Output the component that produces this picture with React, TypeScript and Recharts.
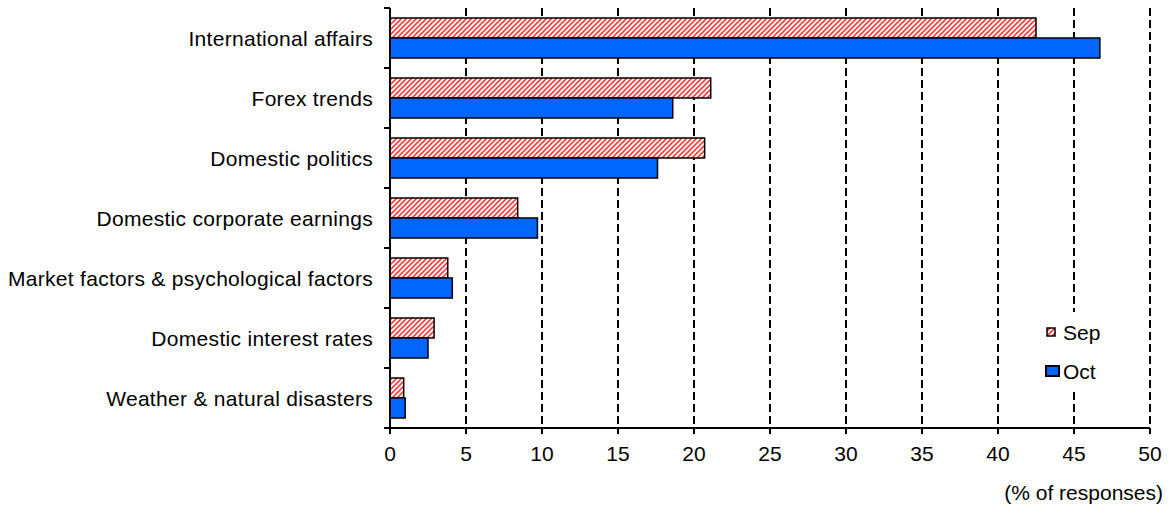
import React from 'react';
import { BarChart, Bar, XAxis, YAxis, CartesianGrid, Label } from 'recharts';

// Factors cited as affecting the market outlook, % of responses
const categories = [
  'International affairs',
  'Forex trends',
  'Domestic politics',
  'Domestic corporate earnings',
  'Market factors & psychological factors',
  'Domestic interest rates',
  'Weather & natural disasters',
];
const sepValues = [42.5, 21.1, 20.7, 8.4, 3.8, 2.9, 0.9];
const octValues = [46.7, 18.6, 17.6, 9.7, 4.1, 2.5, 1.0];
const xTicks = [0, 5, 10, 15, 20, 25, 30, 35, 40, 45, 50];
const seriesNames = { sep: 'Sep', oct: 'Oct' };
const axisTitle = '(% of responses)';

const data = categories.map((category, i) => ({
  category,
  sep: sepValues[i],
  oct: octValues[i],
}));

const FONT = '"Liberation Sans", Arial, sans-serif';
const BLUE = '#0066ff';
const HATCH_RED = '#ff3b3b';

const HatchDef = ({ id }: { id: string }) => (
  <pattern id={id} patternUnits="userSpaceOnUse" width={5} height={5}>
    <rect width={5} height={5} fill="#ffffff" />
    <path d="M-1,1 l2,-2 M0,5 l5,-5 M4,6 l2,-2" stroke={HATCH_RED} strokeWidth={1.6} />
  </pattern>
);

// Category label plus boundary tick marks between bands
const CategoryTick = (props: any) => {
  const { x, y, payload, index, visibleTicksCount } = props;
  const half = payload.offset || 0;
  const isLast = index === visibleTicksCount - 1;
  return (
    <g>
      <line x1={x + 11} x2={x + 17} y1={y - half} y2={y - half} stroke="#000" strokeWidth={2} />
      {isLast && (
        <line x1={x + 11} x2={x + 17} y1={y + half} y2={y + half} stroke="#000" strokeWidth={2} />
      )}
      <text
        x={x}
        y={y}
        textAnchor="end"
        dominantBaseline="central"
        fill="#000"
        fontSize={21}
        fontFamily={FONT}
        letterSpacing={0.3}
      >
        {payload.value}
      </text>
    </g>
  );
};

// Legend box drawn over the plot area, with a white background
const LegendBox = () => (
  <div
    style={{
      position: 'absolute',
      left: 1040,
      top: 312,
      width: 72,
      height: 80,
      background: '#ffffff',
      fontFamily: FONT,
      fontSize: 21,
      color: '#000',
    }}
  >
    <svg style={{ position: 'absolute', left: 6, top: 15 }} width={11} height={11}>
      <defs>
        <HatchDef id="legendHatch" />
      </defs>
      <rect x={1} y={1} width={8} height={8} fill="url(#legendHatch)" stroke="#000" strokeWidth={1.5} />
    </svg>
    <div style={{ position: 'absolute', left: 23, top: 9, lineHeight: '24px' }}>{seriesNames.sep}</div>
    <svg style={{ position: 'absolute', left: 5, top: 53 }} width={16} height={13}>
      <rect x={1} y={1} width={13} height={10} fill={BLUE} stroke="#000" strokeWidth={2} />
    </svg>
    <div style={{ position: 'absolute', left: 23, top: 48, lineHeight: '24px' }}>{seriesNames.oct}</div>
  </div>
);

export default function App() {
  return (
    <div style={{ position: 'absolute', left: 0, top: 0, width: 1169, height: 506, background: '#fff' }}>
      <BarChart
        width={1169}
        height={506}
        data={data}
        layout="vertical"
        margin={{ top: 8, right: 19, bottom: 0, left: 0 }}
        barCategoryGap={10}
        barGap={0}
      >
        <defs>
          <HatchDef id="sepHatch" />
        </defs>
        <CartesianGrid
          horizontal={false}
          stroke="#000"
          strokeWidth={2}
          strokeDasharray="8 4"
        />
        <XAxis
          type="number"
          domain={[0, 50]}
          ticks={xTicks}
          height={78}
          axisLine={{ stroke: '#000', strokeWidth: 2 }}
          tickLine={{ stroke: '#000', strokeWidth: 2 }}
          tickSize={6}
          tickMargin={12}
          tick={{ fill: '#000', fontSize: 21, fontFamily: FONT }}
        >
          <Label
            value={axisTitle}
            position="insideBottomRight"
            offset={0}
            dx={13}
            dy={-6}
            fill="#000"
            fontSize={21}
            fontFamily={FONT}
          />
        </XAxis>
        <YAxis
          type="category"
          dataKey="category"
          width={390}
          axisLine={{ stroke: '#000', strokeWidth: 2 }}
          tickLine={false}
          tickSize={0}
          tickMargin={17}
          tick={<CategoryTick />}
          interval={0}
        />
        <Bar
          dataKey="sep"
          name={seriesNames.sep}
          fill="url(#sepHatch)"
          stroke="#000"
          strokeWidth={1.5}
          isAnimationActive={false}
        />
        <Bar
          dataKey="oct"
          name={seriesNames.oct}
          fill={BLUE}
          stroke="#000"
          strokeWidth={1.5}
          isAnimationActive={false}
        />
      </BarChart>
      <LegendBox />
    </div>
  );
}
